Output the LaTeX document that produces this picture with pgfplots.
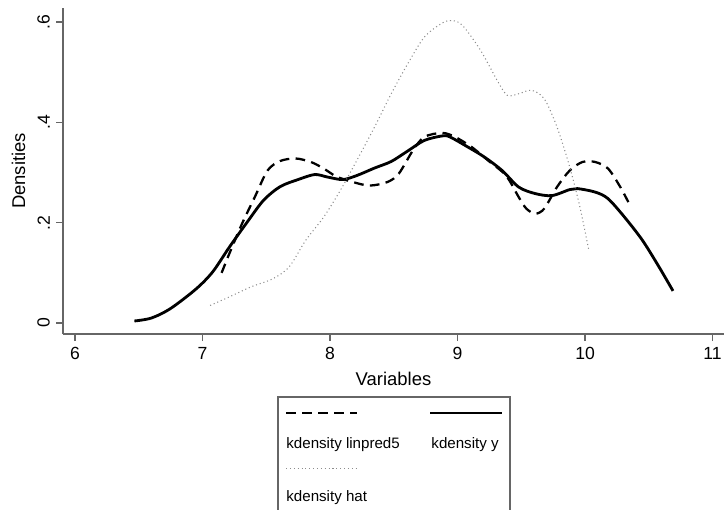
\documentclass[border=0pt]{standalone}
\usepackage{fontspec}
\setmainfont{Liberation Sans}
\usepackage{pgfplots}
\pgfplotsset{compat=1.18}

\begin{document}
\begin{tikzpicture}
\begin{axis}[
    at={(1.26cm,-6.68cm)}, anchor=south west,
    scale only axis, width=13.22cm, height=6.52cm,
    xmin=5.906, xmax=11.09, ymin=-0.0219, ymax=0.628,
    axis x line*=bottom, axis y line*=left,
    axis line style={black!60, line width=0.7pt},
    tick style={black!60, line width=0.7pt},
    tick align=outside, major tick length=0.14cm,
    xtick={6,7,8,9,10,11},
    ytick={0,0.2,0.4,0.6}, yticklabels={0,.2,.4,.6},
    yticklabel style={rotate=90, anchor=south},
    /pgf/number format/assume math mode=true,
    tick label style={font=\fontsize{10}{12}\selectfont},
    label style={font=\fontsize{10.5}{12}\selectfont},
    xlabel={Variables}, ylabel={Densities},
    clip=false,
]
% kdensity linpred5
\addplot[black, line width=1.3pt, dash pattern=on 5.5pt off 3.6pt, smooth, tension=0.5] coordinates {
(7.15,0.100) (7.21,0.138) (7.31,0.198) (7.41,0.251) (7.51,0.304) (7.61,0.323)
(7.73,0.328) (7.85,0.321) (7.95,0.308) (8.05,0.292) (8.18,0.281) (8.31,0.274)
(8.45,0.281) (8.54,0.298) (8.65,0.344) (8.74,0.371) (8.88,0.379) (8.98,0.371)
(9.11,0.351) (9.24,0.324) (9.38,0.294) (9.48,0.251) (9.54,0.228) (9.61,0.218)
(9.68,0.228) (9.78,0.271) (9.88,0.304) (9.98,0.321) (10.08,0.321) (10.18,0.308)
(10.27,0.274) (10.34,0.241)
};
% kdensity y
\addplot[black, line width=1.6pt, smooth, tension=0.5] coordinates {
(6.466,0.004) (6.60,0.010) (6.75,0.029) (6.95,0.068) (7.08,0.102) (7.21,0.151)
(7.35,0.201) (7.48,0.245) (7.61,0.272) (7.75,0.286) (7.88,0.296) (7.98,0.291)
(8.10,0.286) (8.21,0.294) (8.35,0.309) (8.48,0.322) (8.61,0.343) (8.74,0.364)
(8.88,0.373) (8.94,0.371) (9.08,0.351) (9.21,0.331) (9.35,0.304) (9.48,0.271)
(9.61,0.258) (9.74,0.254) (9.88,0.266) (9.94,0.268) (10.08,0.261) (10.18,0.248)
(10.31,0.211) (10.45,0.165) (10.58,0.112) (10.69,0.064)
};
% kdensity hat
\addplot[black!45, line width=0.6pt, dash pattern=on 0.6pt off 1.6pt, smooth, tension=0.5] coordinates {
(7.06,0.035) (7.21,0.052) (7.38,0.072) (7.55,0.088) (7.68,0.112) (7.81,0.165)
(7.95,0.211) (8.08,0.264) (8.21,0.324) (8.35,0.391) (8.48,0.457) (8.61,0.517)
(8.74,0.570) (8.88,0.598) (8.96,0.603) (9.04,0.593) (9.18,0.544) (9.31,0.484)
(9.39,0.454) (9.48,0.457) (9.58,0.464) (9.68,0.447) (9.78,0.391) (9.88,0.311)
(9.96,0.231) (10.03,0.145)
};
\end{axis}
% legend box (pixel units, origin top left)
\begin{scope}[x=0.02cm, y=-0.02cm]
\draw[black!60, line width=0.7pt] (278,397) rectangle (510,530);
\draw[black, line width=1.5pt, dash pattern=on 5.5pt off 3.6pt] (286,413) -- (357,413);
\draw[black, line width=1.6pt] (430,413) -- (502,413);
\node[anchor=west, inner sep=0pt, font=\fontsize{8.6}{10}\selectfont] at (286,445) {kdensity linpred5};
\node[anchor=west, inner sep=0pt, font=\fontsize{8.6}{10}\selectfont] at (431,445) {kdensity y};
\draw[black!45, line width=0.6pt, dash pattern=on 0.6pt off 1.6pt] (286,468) -- (357,468);
\node[anchor=west, inner sep=0pt, font=\fontsize{8.6}{10}\selectfont] at (286,497) {kdensity hat};
\end{scope}
\pgfresetboundingbox
\path[use as bounding box] (0,0) rectangle (14.5cm,-10.2cm);
\end{tikzpicture}
\end{document}
